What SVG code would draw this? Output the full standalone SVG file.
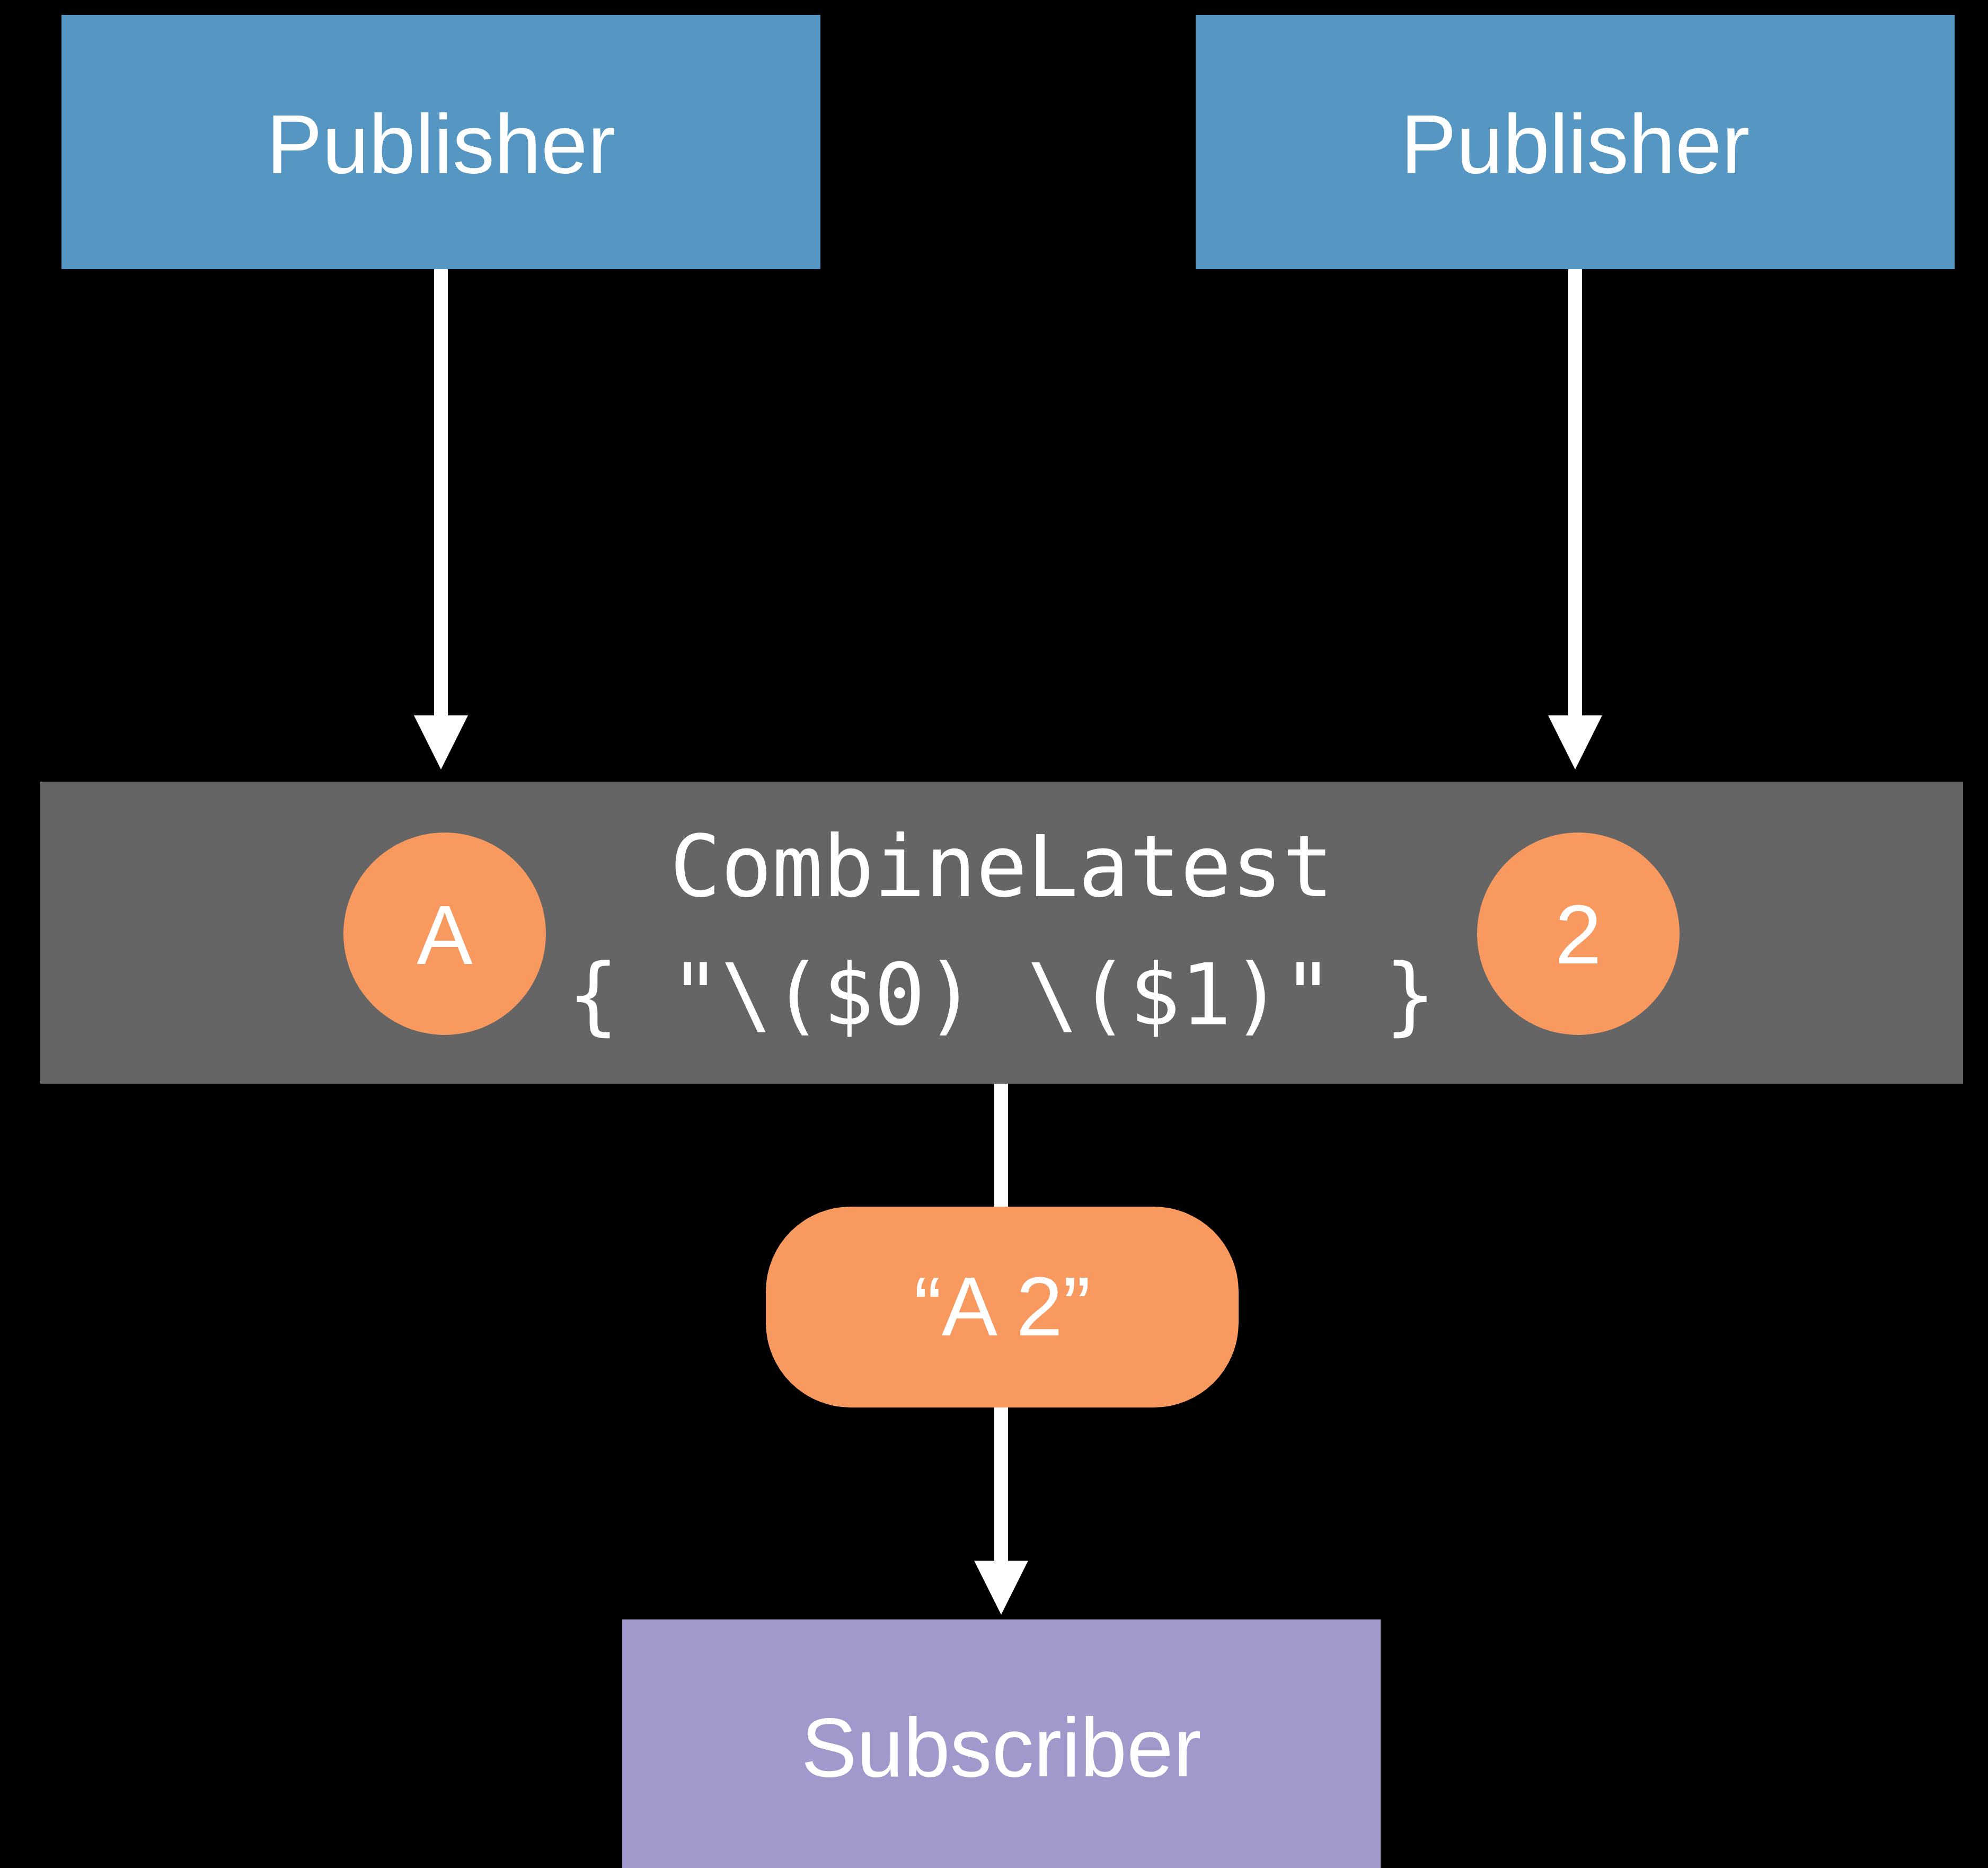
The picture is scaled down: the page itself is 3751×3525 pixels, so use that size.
<svg xmlns="http://www.w3.org/2000/svg" width="3751" height="3525" viewBox="0 0 3751 3525">
  <style>
    .publisher { fill: #5597C2; }
    .operator { fill: #656565; }
    .value { fill: #F8995F; }
    .subscriber { fill: #A199CB; }
    .label { fill: #FFFFFF; font-family: "Liberation Sans", Arial, sans-serif; font-size: 158px; text-anchor: middle; }
    .code { fill: #FFFFFF; font-family: "DejaVu Sans Mono", "Liberation Mono", monospace; font-size: 160px; text-anchor: middle; }
    .wire { stroke: #FFFFFF; stroke-width: 26; fill: none; }
  </style>
  <defs>
    <marker id="arrowhead" viewBox="0 0 102 102" refX="0" refY="51" markerWidth="102" markerHeight="102" markerUnits="userSpaceOnUse" orient="auto">
      <path d="M0,0 L102,51 L0,102 Z" fill="#FFFFFF"/>
    </marker>
  </defs>

  <rect width="3751" height="3525" fill="#000000"/>

  <g id="connectors">
    <line class="wire" x1="832" y1="507" x2="832" y2="1350" marker-end="url(#arrowhead)"/>
    <line class="wire" x1="2972" y1="507" x2="2972" y2="1350" marker-end="url(#arrowhead)"/>
    <line class="wire" x1="1889" y1="2045" x2="1889" y2="2280"/>
    <line class="wire" x1="1889" y1="2650" x2="1889" y2="2945" marker-end="url(#arrowhead)"/>
  </g>

  <g id="publisher-left">
    <rect class="publisher" x="116" y="28" width="1432" height="480"/>
    <text class="label" x="832" y="326">Publisher</text>
  </g>

  <g id="publisher-right">
    <rect class="publisher" x="2256" y="28" width="1432" height="480"/>
    <text class="label" x="2972" y="326">Publisher</text>
  </g>

  <g id="combine-latest">
    <rect class="operator" x="76" y="1475" width="3628" height="570"/>
    <text class="code" x="1890" y="1691">CombineLatest</text>
    <text class="code" x="1890" y="1933" xml:space="preserve">{ "\($0) \($1)" }</text>
  </g>

  <g id="value-a">
    <circle class="value" cx="839" cy="1762" r="191"/>
    <text class="label" x="839" y="1819">A</text>
  </g>

  <g id="value-2">
    <circle class="value" cx="2978" cy="1762" r="191"/>
    <text class="label" x="2978" y="1818">2</text>
  </g>

  <g id="output-value">
    <rect class="value" x="1445" y="2277" width="892" height="379" rx="160" ry="160"/>
    <text class="label" x="1891" y="2520">“A 2”</text>
  </g>

  <g id="subscriber">
    <rect class="subscriber" x="1174" y="3056" width="1431" height="480"/>
    <text class="label" x="1889" y="3352">Subscriber</text>
  </g>
</svg>
